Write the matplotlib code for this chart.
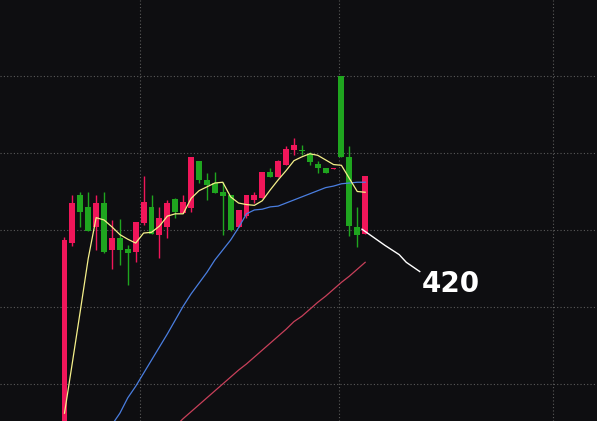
import matplotlib
matplotlib.use("Agg")
import matplotlib.pyplot as plt
import numpy as np

# daily candles (open, high, low, close)
opens = [7.40, 9.83, 10.45, 10.30, 10.04, 10.35, 9.74, 9.90, 9.75, 9.71,
         10.09, 10.30, 9.94, 10.04, 10.40, 10.22, 10.29, 10.90, 10.65, 10.61,
         10.49, 10.45, 10.04, 10.18, 10.39, 10.42, 10.75, 10.69, 10.84, 11.04,
         11.04, 10.99, 10.86, 10.81, 10.79, 12.00, 10.95, 10.04, 9.95]
highs = [9.91, 10.45, 10.49, 10.49, 10.45, 10.49, 10.13, 10.14, 9.81, 10.10,
         10.70, 10.45, 10.30, 10.39, 10.42, 10.45, 10.95, 10.90, 10.74, 10.75,
         10.62, 10.45, 10.26, 10.45, 10.49, 10.75, 10.81, 10.91, 11.09, 11.19,
         11.10, 11.01, 10.90, 10.81, 10.81, 12.00, 11.09, 10.30, 10.70]
lows = [7.30, 9.79, 10.04, 9.99, 9.74, 9.70, 9.49, 9.55, 9.29, 9.58,
        10.06, 9.95, 9.64, 9.90, 10.16, 10.22, 10.23, 10.61, 10.39, 10.48,
        9.94, 9.99, 10.04, 10.16, 10.35, 10.42, 10.69, 10.69, 10.84, 10.97,
        10.97, 10.84, 10.74, 10.74, 10.79, 10.95, 9.92, 9.78, 9.95]
closes = [9.87, 10.35, 10.23, 9.99, 10.35, 9.71, 9.90, 9.74, 9.70, 10.10,
          10.36, 9.95, 10.16, 10.35, 10.23, 10.36, 10.95, 10.65, 10.58, 10.48,
          10.44, 10.00, 10.26, 10.45, 10.45, 10.75, 10.69, 10.90, 11.05, 11.10,
          11.03, 10.88, 10.81, 10.74, 10.81, 10.95, 10.05, 9.94, 10.70]

# moving averages as shown (None = outside the window)
ma5 = [7.62, 8.28, 8.95, 9.63, 10.16, 10.13, 10.04, 9.94, 9.88, 9.83,
       9.96, 9.97, 10.05, 10.18, 10.21, 10.21, 10.41, 10.51, 10.56, 10.61,
       10.62, 10.43, 10.35, 10.33, 10.32, 10.38, 10.52, 10.65, 10.77, 10.90,
       10.95, 10.99, 10.97, 10.91, 10.85, 10.84, 10.67, 10.50, 10.49]
ma20 = [None, None, None, None, None, 7.30, 7.47, 7.62, 7.82, 7.97,
        8.14, 8.31, 8.48, 8.65, 8.83, 9.01, 9.17, 9.31, 9.45, 9.61,
        9.74, 9.87, 10.03, 10.21, 10.26, 10.27, 10.30, 10.31, 10.35, 10.39,
        10.43, 10.47, 10.51, 10.55, 10.57, 10.60, 10.61, 10.62, 10.62]
ma60 = [None] * 14 + [7.45, 7.55, 7.64, 7.73, 7.82, 7.91,
        8.00, 8.09, 8.18, 8.26, 8.35, 8.44, 8.53, 8.62, 8.71, 8.81,
        8.88, 8.97, 9.06, 9.14, 9.23, 9.32, 9.40, 9.49, 9.58]

label_text = "420"

bg = "#0e0e11"
up_col = "#f0165a"
down_col = "#1fa51f"

fig = plt.figure(figsize=(5.97, 4.21), dpi=100, facecolor=bg)
ax = fig.add_axes([0, 0, 1, 1])
ax.set_facecolor(bg)

x = np.arange(len(opens))
o = np.array(opens); c = np.array(closes)
h = np.array(highs); l = np.array(lows)
up = c >= o
cols = np.where(up, up_col, down_col)

# grid
for gy in [8, 9, 10, 11, 12]:
    ax.axhline(gy, color="#5a5a5a", lw=0.8, ls=(0, (1, 2)), zorder=0)
for gx in [9.55, 34.7, 61.8]:
    ax.axvline(gx, color="#5a5a5a", lw=0.8, ls=(0, (1, 2)), zorder=0)

# candles
ax.vlines(x, l, h, colors=cols, lw=1, zorder=2)
body = np.maximum(np.abs(c - o), 0.012)
ax.bar(x, body, bottom=np.minimum(o, c), width=0.75, color=cols,
       edgecolor=cols, lw=0, zorder=3)

def series(vals):
    return np.array([np.nan if v is None else v for v in vals], dtype=float)

ax.plot(x, series(ma60), color="#c8405a", lw=0.9, zorder=4)
ax.plot(x, series(ma20), color="#4a7ee0", lw=0.9, zorder=4)
ax.plot(x, series(ma5), color="#f5f08a", lw=0.9, zorder=4)

# pointer line from the last candle to the label
ax.plot([37.6, 40.5, 42.3, 43.2, 44.9], [10.01, 9.80, 9.68, 9.58, 9.46],
        color="white", lw=1, zorder=5)
ax.text(45.15, 9.30, label_text, color="white", fontsize=20,
        fontweight="bold", family="DejaVu Sans", ha="left", va="center")

ax.set_xlim(-8.15, 67.3)
ax.set_ylim(7.519, 12.987)
ax.axis("off")

fig.savefig("out.png", dpi=100, facecolor=bg)
